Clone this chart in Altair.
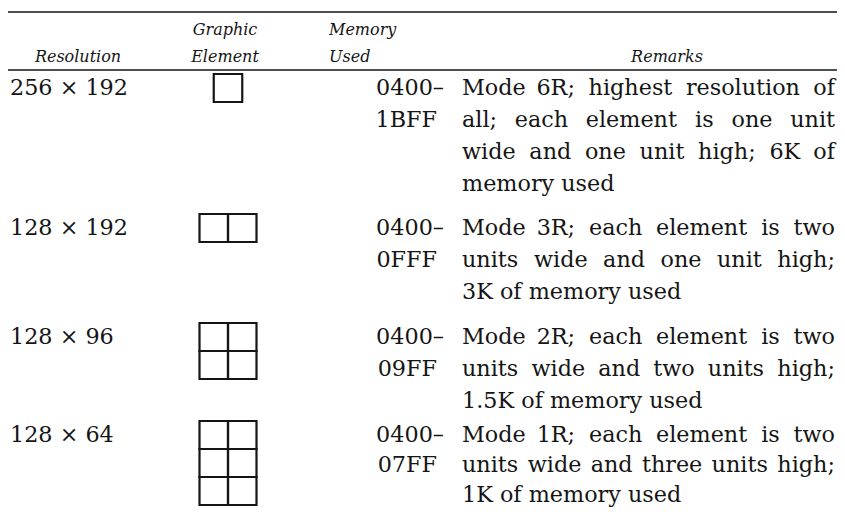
import altair as alt
import pandas as pd

# ---- table content ----
headers_top = ["", "Graphic", "Memory", ""]
headers_bottom = ["Resolution", "Element", "Used", "Remarks"]
resolutions = ["256 × 192", "128 × 192", "128 × 96", "128 × 64"]
element_cols = [1, 2, 2, 2]
element_rows = [1, 1, 2, 3]
memory_start = ["0400–", "0400–", "0400–", "0400–"]
memory_end = ["1BFF", "0FFF", "09FF", "07FF"]
remarks = [
    ["Mode 6R; highest resolution of", "all; each element is one unit",
     "wide and one unit high; 6K of", "memory used"],
    ["Mode 3R; each element is two", "units wide and one unit high;",
     "3K of memory used"],
    ["Mode 2R; each element is two", "units wide and two units high;",
     "1.5K of memory used"],
    ["Mode 1R; each element is two", "units wide and three units high;",
     "1K of memory used"],
]

# ---- layout (page pixel space) ----
X0, X1, Y0, Y1 = 8, 837, 8, 507
row_center = [88, 228, 337, 435]
line_gap = [32, 32, 32, 30]
res_x = 10
elem_cx = 228
cell_w, cell_h = 28.5, 28
mem_x1, mem_x2 = 444, 437
rem_x, rem_right = 462, 835
rule_y = [12, 70]
rule_x = (0, 841)
head_y = [35, 62]
head_x = [78, 225, 329, 667]
head_align = ["center", "center", "left", "center"]

FONT = "DejaVu Serif"
BODY_SIZE = 22.3
INK = "#151515"

# approximate DejaVu Serif advance widths (units per em = 2048), used only to
# spread the words of justified lines
ADV = {" ": 651, ";": 690, ".": 651, "K": 1495, "M": 1853, "R": 1573,
       "a": 1219, "c": 1151, "d": 1311, "e": 1212, "f": 739, "g": 1311,
       "h": 1321, "i": 655, "l": 655, "m": 1986, "n": 1321, "o": 1233,
       "r": 979, "s": 1067, "t": 821, "u": 1321, "w": 1753, "y": 1188}


def text_w(s):
    return sum(ADV.get(ch, 1303 if ch.isdigit() else 1200) for ch in s) / 2048 * BODY_SIZE


xs = alt.Scale(domain=[X0, X1], zero=False, nice=False)
ys = alt.Scale(domain=[Y1, Y0], zero=False, nice=False)

# header text
hrows = []
for i in range(4):
    if headers_top[i]:
        hrows.append(dict(x=head_x[i], y=head_y[0], t=headers_top[i], a=head_align[i]))
    hrows.append(dict(x=head_x[i], y=head_y[1], t=headers_bottom[i], a=head_align[i]))
hdf = pd.DataFrame(hrows)


def head_layer(align):
    d = hdf[hdf.a == align]
    return alt.Chart(d).mark_text(
        font=FONT, fontStyle="italic", fontSize=16, align=align,
        baseline="alphabetic", color=INK
    ).encode(x=alt.X("x:Q", scale=xs, axis=None),
             y=alt.Y("y:Q", scale=ys, axis=None), text="t:N")


# body text
brows = []
for r in range(4):
    c = row_center[r]
    g = line_gap[r]
    brows.append(dict(x=res_x, y=c, t=resolutions[r], a="left"))
    brows.append(dict(x=mem_x1, y=c, t=memory_start[r], a="right"))
    brows.append(dict(x=mem_x2, y=c + g, t=memory_end[r], a="right"))
    lines = remarks[r]
    for k, line in enumerate(lines):
        y = c + k * g
        words = line.split(" ")
        if k == len(lines) - 1 or len(words) < 2:
            brows.append(dict(x=rem_x, y=y, t=line, a="left"))
            continue
        widths = [text_w(w) for w in words]
        gap = (rem_right - rem_x - sum(widths)) / (len(words) - 1)
        pos = rem_x
        for j, w in enumerate(words):
            if j == len(words) - 1:
                brows.append(dict(x=rem_right, y=y, t=w, a="right"))
            else:
                brows.append(dict(x=pos, y=y, t=w, a="left"))
            pos += widths[j] + gap
bdf = pd.DataFrame(brows)


def body_layer(align):
    d = bdf[bdf.a == align]
    return alt.Chart(d).mark_text(
        font=FONT, fontSize=BODY_SIZE, align=align, baseline="middle", color=INK
    ).encode(x=alt.X("x:Q", scale=xs, axis=None),
             y=alt.Y("y:Q", scale=ys, axis=None), text="t:N")


# graphic element cells
cells = []
for r in range(4):
    nc, nr = element_cols[r], element_rows[r]
    left = elem_cx - nc * cell_w / 2
    top = row_center[r] - cell_h / 2
    for i in range(nc):
        for j in range(nr):
            cells.append(dict(x=left + i * cell_w, x2=left + (i + 1) * cell_w,
                              y=top + j * cell_h, y2=top + (j + 1) * cell_h))
cdf = pd.DataFrame(cells)
cell_layer = alt.Chart(cdf).mark_rect(
    fill="white", fillOpacity=0, stroke=INK, strokeWidth=2.2
).encode(x=alt.X("x:Q", scale=xs, axis=None), x2="x2:Q",
         y=alt.Y("y:Q", scale=ys, axis=None), y2="y2:Q")

# rules
rdf = pd.DataFrame(dict(x=[rule_x[0]] * 2, x2=[rule_x[1]] * 2, y=rule_y))
rule_layer = alt.Chart(rdf).mark_rule(color=INK, strokeWidth=1.6, clip=True).encode(
    x=alt.X("x:Q", scale=xs, axis=None), x2="x2:Q",
    y=alt.Y("y:Q", scale=ys, axis=None))

chart = alt.layer(
    rule_layer, cell_layer,
    head_layer("center"), head_layer("left"),
    body_layer("left"), body_layer("right"),
).properties(
    width=X1 - X0, height=Y1 - Y0, padding=0,
    autosize=alt.AutoSizeParams(type="none"),
    background="white",
).configure_view(stroke=None)

chart.save("out.html", embed_options={"renderer": "svg", "actions": False})
